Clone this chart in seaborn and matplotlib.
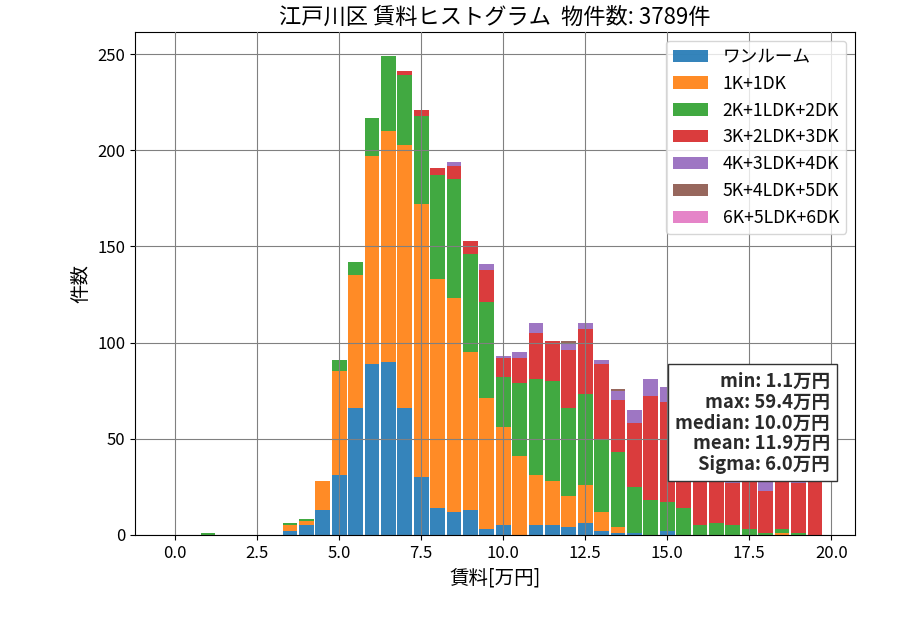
import numpy as np
import pandas as pd
import matplotlib
matplotlib.use("Agg")
import matplotlib.pyplot as plt
import seaborn as sns
from matplotlib.patches import Patch

# ---- data (bin centres every 0.5 万円, 0.0 .. 19.5) ----
centers = [i * 0.5 for i in range(40)]
categories = ["ワンルーム", "1K+1DK", "2K+1LDK+2DK", "3K+2LDK+3DK",
              "4K+3LDK+4DK", "5K+4LDK+5DK", "6K+5LDK+6DK"]

one_room = [0, 0, 0, 0, 0, 0, 0, 2, 5, 13, 31, 66, 89, 90, 66, 30, 14, 12, 13, 3,
            5, 0, 5, 5, 4, 6, 2, 1, 1, 0, 2, 0, 0, 0, 0, 0, 0, 0, 0, 0]
k1_dk1 = [0, 0, 0, 0, 0, 0, 0, 3, 2, 15, 54, 69, 108, 120, 137, 142, 119, 111, 82, 68,
          51, 41, 26, 23, 16, 20, 10, 3, 0, 0, 0, 0, 0, 0, 0, 0, 0, 1, 0, 0]
k2_ldk1 = [0, 0, 1, 0, 0, 0, 0, 1, 1, 0, 6, 7, 20, 39, 36, 46, 54, 62, 51, 50,
           26, 38, 50, 52, 46, 47, 38, 39, 24, 18, 15, 14, 5, 6, 5, 3, 1, 2, 1, 0]
k3_ldk2 = [0, 0, 0, 0, 0, 0, 0, 0, 0, 0, 0, 0, 0, 0, 2, 3, 4, 7, 7, 17,
           10, 13, 24, 21, 30, 34, 39, 27, 33, 54, 52, 55, 50, 45, 22, 35, 22, 30, 26, 35]
k4_ldk3 = [0, 0, 0, 0, 0, 0, 0, 0, 0, 0, 0, 0, 0, 0, 0, 0, 0, 2, 0, 3,
           1, 3, 5, 0, 4, 3, 2, 5, 7, 9, 8, 3, 3, 2, 10, 2, 8, 2, 4, 0]
k5_ldk4 = [0] * 24 + [1, 0, 0, 1] + [0] * 12
k6_ldk5 = [0] * 40

title_text = "江戸川区 賃料ヒストグラム  物件数: 3789件"
stats_text = "min: 1.1万円\nmax: 59.4万円\nmedian: 10.0万円\nmean: 11.9万円\nSigma: 6.0万円"

series = [one_room, k1_dk1, k2_ldk1, k3_ldk2, k4_ldk3, k5_ldk4, k6_ldk5]
rows = []
for cat, vals in zip(categories, series):
    for c, v in zip(centers, vals):
        rows.append({"rent": c, "count": v, "type": cat})
df = pd.DataFrame(rows)

colors = sns.color_palette("tab10", 7)
palette = dict(zip(categories, colors))

plt.rcParams["font.family"] = ["Noto Sans CJK JP", "DejaVu Sans"]
plt.rcParams["axes.unicode_minus"] = False

fig, ax = plt.subplots(figsize=(9, 6.3), dpi=100)
fig.subplots_adjust(left=0.15, right=0.95, top=0.949, bottom=0.151)

sns.histplot(data=df, x="rent", weights="count", hue="type",
             hue_order=categories[::-1], palette=palette,
             multiple="stack", binwidth=0.5, binrange=(-0.25, 19.75),
             shrink=0.9, alpha=0.9,
             linewidth=0, edgecolor="none", legend=False, ax=ax)

ax.set_axisbelow(False)
ax.grid(True, color="gray", linewidth=0.8, linestyle="-")
ax.set_xticks(np.arange(0, 20.01, 2.5))
ax.set_yticks(np.arange(0, 251, 50))
ax.tick_params(labelsize=12)
ax.set_xlabel("賃料[万円]", fontsize=14)
ax.set_ylabel("件数", fontsize=14)
ax.set_title(title_text, fontsize=16)

handles = [Patch(facecolor=palette[c], alpha=0.9, label=c) for c in categories]
ax.legend(handles=handles, loc="upper right", fontsize=12.7)

ax.text(0.965, 0.121, stats_text, transform=ax.transAxes, ha="right", va="bottom",
        fontsize=13.3, fontweight="bold", color="#2a2a2a", zorder=10,
        linespacing=1.12,
        bbox=dict(boxstyle="square,pad=0.4", facecolor="white", edgecolor="#333333"))

fig.savefig("out.png", dpi=100)
